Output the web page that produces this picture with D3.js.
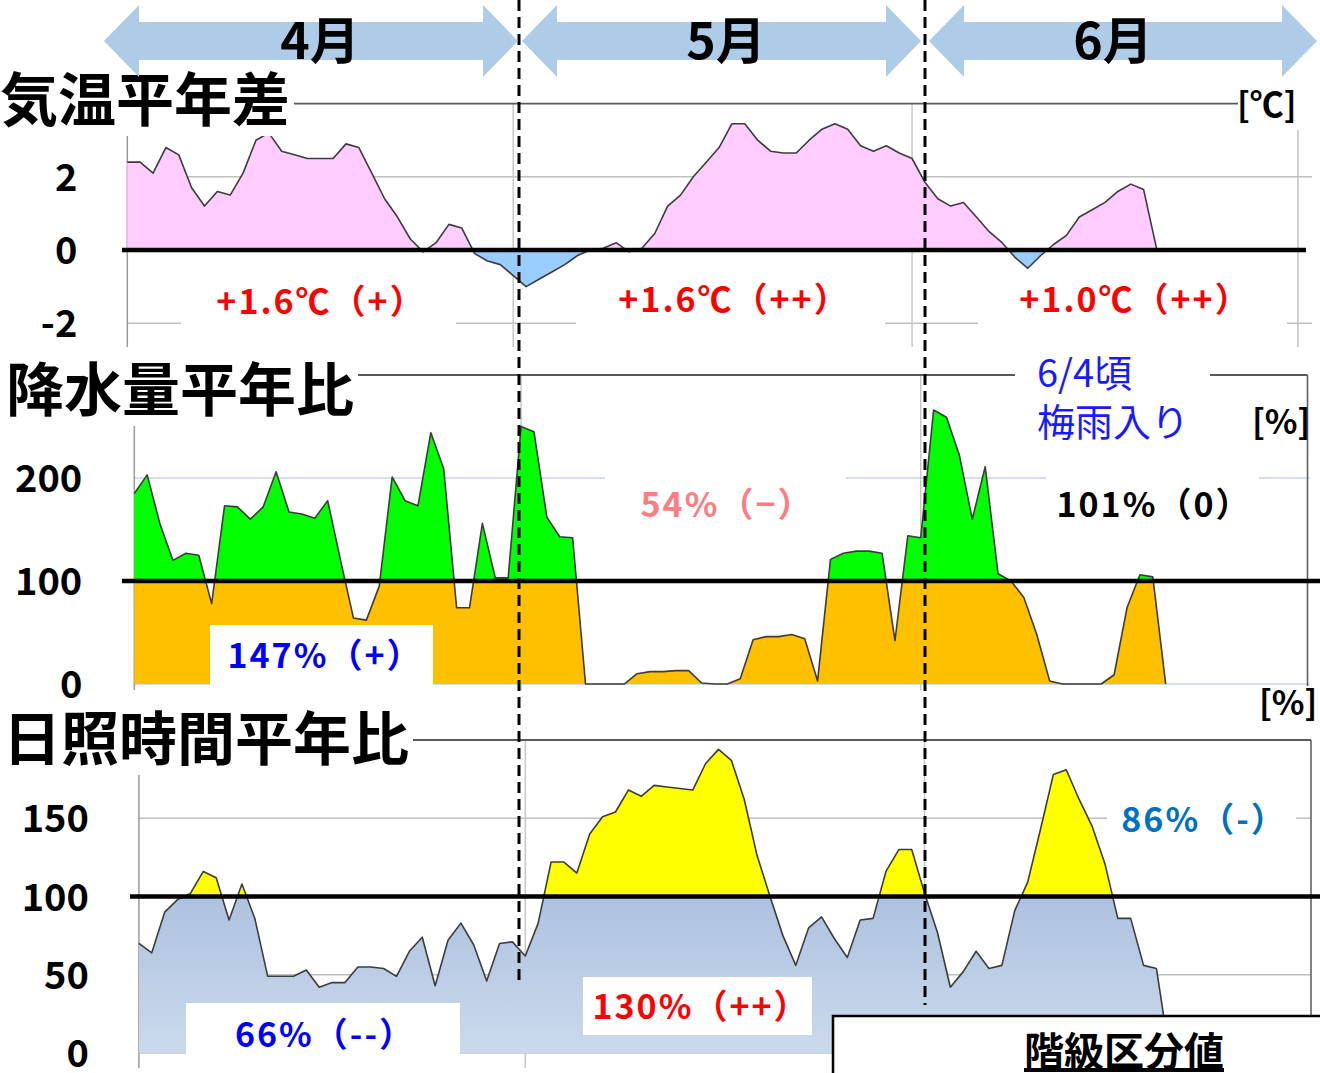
<!DOCTYPE html>
<html>
<head>
<meta charset="utf-8">
<script src="https://cdn.jsdelivr.net/npm/d3@7"></script>
<style>
  body { margin: 0; background: #fff; }
  svg { display: block; }
  text { font-family: "Noto Sans CJK JP", "Noto Sans", sans-serif; }
</style>
</head>
<body>
<svg id="chart" width="1320" height="1073"></svg>
<script>
// day index 0 = Apr 1, axis runs to Jul 1 (91 days)
var dayCount = 91;
var monthNames = ['4月', '5月', '6月'];
var monthStartDays = [0, 30, 61, 91];

// 気温平年差 [℃]
var tempValues = [
  2.4, 2.4, 2.1, 2.8, 2.6, 1.7, 1.2, 1.6, 1.5, 2.1,
  3.0, 3.2, 2.7, 2.6, 2.5, 2.5, 2.5, 2.9, 2.8, 2.1,
  1.4, 0.9, 0.3, -0.05, 0.2, 0.7, 0.6, -0.1, -0.3, -0.4,
  -0.7, -1.0, -0.8, -0.6, -0.4, -0.15, 0.0, 0.05, 0.2, -0.05,
  0.05, 0.45, 1.2, 1.5, 2.0, 2.4, 2.8, 3.45, 3.45, 3.0,
  2.7, 2.65, 2.65, 3.0, 3.3, 3.45, 3.3, 2.85, 2.7, 2.85,
  2.65, 2.5, 1.85, 1.4, 1.2, 1.3, 0.9, 0.5, 0.2, -0.2,
  -0.5, -0.15, 0.15, 0.4, 0.9, 1.1, 1.3, 1.6, 1.8, 1.65,
  0.05
];

// 降水量平年比 [%]
var precipValues = [
  185, 203, 155, 120, 127, 125, 78, 173, 172, 160,
  172, 206, 167, 165, 161, 178, 120, 64, 62, 95,
  201, 178, 173, 244, 209, 74, 74, 156, 103, 103,
  250, 245, 162, 143, 142, 0, 0, 0, 0, 10,
  12, 12, 13, 13, 1, 0, 0, 5, 43, 46,
  46, 48, 44, 3, 121, 127, 129, 129, 127, 42,
  144, 142, 266, 259, 222, 160, 211, 107, 100, 84,
  48, 3, 0, 0, 0, 0, 9, 74, 106, 104,
  0
];

// 日照時間平年比 [%]
var sunValues = [
  70, 64, 90, 98, 102, 116, 112, 85, 108, 86,
  49, 49, 49, 53, 42, 45, 45, 55, 55, 54,
  49, 65, 74, 43, 72, 83, 69, 46, 70, 71,
  62, 83, 122, 122, 115, 140, 151, 154, 168, 164,
  171, 170, 169, 168, 185, 194, 187, 162, 126, 100,
  75, 56, 80, 87, 73, 61, 85, 86, 116, 130,
  130, 102, 77, 42, 52, 65, 54, 56, 91, 109,
  143, 178, 181, 162, 145, 121, 86, 86, 56, 54,
  0
];

var tempTicks = [-2, 0, 2];
var precipTicks = [0, 100, 200, 300];
var sunTicks = [0, 50, 100, 150, 200];

var tempLabels = ['+1.6℃（+）', '+1.6℃（++）', '+1.0℃（++）'];
var precipLabels = ['147%（+）', '54%（−）', '101%（0）'];
var sunLabels = ['66%（--）', '130%（++）', '86%（-）'];

var svg = d3.select('#chart');
var defs = svg.append('defs');
var lowerLayer = svg.append('g');
var areaLayer = svg.append('g');
var upperLayer = svg.append('g');
var labelLayer = svg.append('g');
var topLayer = svg.append('g');

function drawPanel(p) {
  var x = d3.scaleLinear().domain([0, dayCount]).range(p.xRange);
  var y = d3.scaleLinear().domain(p.yDomain).range(p.yRange);
  var left = p.xRange[0];
  var right = p.xRange[1];

  // horizontal grid lines
  lowerLayer.selectAll(null).data(p.grid).enter().append('line')
    .attr('x1', left)
    .attr('x2', p.gridEnd)
    .attr('y1', function(d) { return y(d); })
    .attr('y2', function(d) { return y(d); })
    .attr('stroke', p.gridColor)
    .attr('stroke-width', 1.5);

  // month boundaries
  lowerLayer.selectAll(null).data(monthStartDays.slice(1, 3)).enter().append('line')
    .attr('x1', function(d) { return x(d); })
    .attr('x2', function(d) { return x(d); })
    .attr('y1', y(p.yDomain[1]))
    .attr('y2', p.axisBottom)
    .attr('stroke', '#c8c8c8')
    .attr('stroke-width', 1.5);

  // frame: top line, right line, left axis
  lowerLayer.append('line')
    .attr('x1', left).attr('x2', right)
    .attr('y1', y(p.yDomain[1])).attr('y2', y(p.yDomain[1]))
    .attr('stroke', '#595959').attr('stroke-width', 1.8);
  lowerLayer.append('line')
    .attr('x1', right).attr('x2', right)
    .attr('y1', p.rightTop).attr('y2', p.rightBottom)
    .attr('stroke', p.rightColor).attr('stroke-width', 1.5);
  lowerLayer.append('line')
    .attr('x1', left).attr('x2', left)
    .attr('y1', p.axisTop).attr('y2', p.axisBottom)
    .attr('stroke', '#9a9a9a').attr('stroke-width', 1.5);

  var refY = y(p.ref);
  defs.append('clipPath').attr('id', p.id + 'Above')
    .append('rect').attr('x', 0).attr('y', 0).attr('width', 1320).attr('height', refY);
  defs.append('clipPath').attr('id', p.id + 'Below')
    .append('rect').attr('x', 0).attr('y', refY).attr('width', 1320).attr('height', 1073 - refY);

  if (p.lowGradient) {
    var grad = defs.append('linearGradient').attr('id', p.id + 'Grad')
      .attr('gradientUnits', 'userSpaceOnUse')
      .attr('x1', 0).attr('x2', 0).attr('y1', refY).attr('y2', y(0));
    grad.append('stop').attr('offset', '0%').attr('stop-color', p.lowGradient[0]);
    grad.append('stop').attr('offset', '100%').attr('stop-color', p.lowGradient[1]);
  }

  var area = d3.area()
    .x(function(d, i) { return x(i); })
    .y0(y(0))
    .y1(function(d) { return y(d); });
  var line = d3.line()
    .x(function(d, i) { return x(i); })
    .y(function(d) { return y(d); });

  areaLayer.append('path').datum(p.values)
    .attr('d', area)
    .attr('fill', p.aboveColor)
    .attr('clip-path', 'url(#' + p.id + 'Above)');
  areaLayer.append('path').datum(p.values)
    .attr('d', area)
    .attr('fill', p.lowGradient ? 'url(#' + p.id + 'Grad)' : p.belowColor)
    .attr('clip-path', 'url(#' + p.id + 'Below)');
  areaLayer.append('path').datum(p.values)
    .attr('d', line)
    .attr('fill', 'none')
    .attr('stroke', '#3c3c3c')
    .attr('stroke-width', 1.6)
    .attr('stroke-linejoin', 'round');

  // reference line (平年)
  upperLayer.append('line')
    .attr('x1', p.refStart).attr('x2', p.refEnd)
    .attr('y1', refY).attr('y2', refY)
    .attr('stroke', '#000').attr('stroke-width', 4.5);

  var axis = d3.axisLeft(y).tickValues(p.ticks).tickSize(0).tickPadding(p.tickPad)
    .tickFormat(function(d) { return String(d); });
  var axisG = lowerLayer.append('g')
    .attr('transform', 'translate(' + left + ',0)')
    .call(axis);
  axisG.select('.domain').remove();
  axisG.selectAll('text')
    .attr('font-family', '"Noto Sans CJK JP", sans-serif')
    .attr('font-size', 38)
    .attr('font-weight', 'bold')
    .attr('fill', '#000')
    .attr('dy', '0.36em');

  // summary labels with white boxes
  p.labels.forEach(function(txt, k) {
    var lay = p.labelLayout[k];
    labelLayer.append('rect')
      .attr('x', lay.box[0]).attr('y', lay.box[1])
      .attr('width', lay.box[2] - lay.box[0]).attr('height', lay.box[3] - lay.box[1])
      .attr('fill', '#fff');
    labelLayer.append('text')
      .attr('x', lay.cx).attr('y', lay.by)
      .attr('text-anchor', 'middle')
      .attr('font-size', 34)
      .attr('letter-spacing', 2)
      .attr('font-weight', 'bold')
      .attr('fill', p.labelColors[k])
      .text(txt);
  });

  return { x: x, y: y };
}

drawPanel({
  id: 'temp',
  values: tempValues,
  xRange: [127.3, 1298],
  yDomain: [-2, 4],
  yRange: [323.2, 103.6],
  ref: 0,
  grid: [-2, 2],
  gridEnd: 1312,
  gridColor: '#c0c0c0',
  axisTop: 115, axisBottom: 347,
  rightTop: 130, rightBottom: 347, rightColor: '#c0c0c0',
  refStart: 122, refEnd: 1306,
  aboveColor: '#ffccff',
  belowColor: '#99ccff',
  ticks: tempTicks,
  tickPad: 50,
  labels: tempLabels,
  labelColors: ['#ff0000', '#ff0000', '#ff0000'],
  labelLayout: [
    { cx: 321, by: 314, box: [181, 282, 456, 345] },
    { cx: 734, by: 312, box: [576, 282, 885, 345] },
    { cx: 1135, by: 312, box: [978, 282, 1287, 345] }
  ]
});

drawPanel({
  id: 'precip',
  values: precipValues,
  xRange: [134.3, 1307.5],
  yDomain: [0, 300],
  yRange: [684, 375],
  ref: 100,
  grid: [0, 200],
  gridEnd: 1310,
  gridColor: '#c9d5e9',
  axisTop: 420, axisBottom: 690,
  rightTop: 375, rightBottom: 686, rightColor: '#595959',
  refStart: 122, refEnd: 1320,
  aboveColor: '#00ff00',
  belowColor: '#ffc000',
  ticks: precipTicks,
  tickPad: 52,
  labels: precipLabels,
  labelColors: ['#0000ff', '#ff7c80', '#000000'],
  labelLayout: [
    { cx: 325, by: 668, box: [210, 625, 433, 686] },
    { cx: 727, by: 517, box: [605, 455, 846, 545] },
    { cx: 1154, by: 517, box: [1046, 455, 1259, 545] }
  ]
});

drawPanel({
  id: 'sun',
  values: sunValues,
  xRange: [138.9, 1311],
  yDomain: [0, 200],
  yRange: [1053, 740],
  ref: 100,
  grid: [0, 50, 150],
  gridEnd: 1311,
  gridColor: '#c0c0c0',
  axisTop: 760, axisBottom: 1068,
  rightTop: 740, rightBottom: 1015, rightColor: '#595959',
  refStart: 130, refEnd: 1320,
  aboveColor: '#ffff00',
  lowGradient: ['#adc2df', '#cbd9ec'],
  ticks: sunTicks,
  tickPad: 50,
  labels: sunLabels,
  labelColors: ['#0000ff', '#ff0000', '#0070c0'],
  labelLayout: [
    { cx: 325, by: 1047, box: [186, 1003, 460, 1073] },
    { cx: 701, by: 1019, box: [583, 977, 812, 1035] },
    { cx: 1204, by: 832, box: [1107, 795, 1296, 845] }
  ]
});

// month boundary dashes
topLayer.selectAll(null).data([{ x: 519, y2: 985 }, { x: 925, y2: 1005 }]).enter().append('line')
  .attr('x1', function(d) { return d.x; })
  .attr('x2', function(d) { return d.x; })
  .attr('y1', 0)
  .attr('y2', function(d) { return d.y2; })
  .attr('stroke', '#000')
  .attr('stroke-width', 3)
  .attr('stroke-dasharray', '11,6');

// panel titles on white backing
function title(txt, x, y) {
  var t = topLayer.append('text')
    .attr('x', x).attr('y', y)
    .attr('font-size', 58)
    .attr('font-weight', 'bold')
    .attr('fill', '#000')
    .text(txt);
  var b = t.node().getBBox();
  topLayer.insert('rect', function() { return t.node(); })
    .attr('x', b.x - 2).attr('y', b.y + 6)
    .attr('width', b.width + 6).attr('height', b.height - 8)
    .attr('fill', '#fff');
}
title('気温平年差', 0, 121);
title('降水量平年比', 6, 411);
title('日照時間平年比', 3, 760);

// units
function unit(txt, x, y) {
  topLayer.append('text')
    .attr('x', x).attr('y', y)
    .attr('font-size', 34)
    .attr('font-weight', 'bold')
    .attr('fill', '#000')
    .text(txt);
}
// white gap in top line behind [℃]
topLayer.append('rect').attr('x', 1238).attr('y', 88).attr('width', 70).attr('height', 34).attr('fill', '#fff');
unit('[℃]', 1237, 117);
unit('[%]', 1252, 434);
unit('[%]', 1259, 715);

// 梅雨入り note
topLayer.append('rect').attr('x', 1015).attr('y', 350).attr('width', 195).attr('height', 45).attr('fill', '#fff');
topLayer.append('text').attr('x', 1037).attr('y', 387)
  .attr('font-size', 38).attr('fill', '#1a1aff').text('6/4頃');
topLayer.append('text').attr('x', 1037).attr('y', 436)
  .attr('font-size', 38).attr('fill', '#1a1aff').text('梅雨入り');

// month arrows
var arrowSpans = [[104, 518], [522, 921], [929, 1317]];
var monthCenters = [320, 726, 1113];
function arrowPath(x0, x1) {
  var cy = 41, head = 35, hh = 36, sh = 19;
  return [
    [x0, cy], [x0 + head, cy - hh], [x0 + head, cy - sh], [x1 - head, cy - sh],
    [x1 - head, cy - hh], [x1, cy], [x1 - head, cy + hh], [x1 - head, cy + sh],
    [x0 + head, cy + sh], [x0 + head, cy + hh]
  ];
}
topLayer.selectAll(null).data(arrowSpans).enter().append('polygon')
  .attr('points', function(d) { return arrowPath(d[0], d[1]).join(' '); })
  .attr('fill', '#aecbe8');
topLayer.selectAll(null).data(monthNames).enter().append('text')
  .attr('x', function(d, i) { return monthCenters[i]; })
  .attr('y', 59)
  .attr('text-anchor', 'middle')
  .attr('font-size', 50)
  .attr('font-weight', 'bold')
  .attr('fill', '#000')
  .text(function(d) { return d; });

// 階級区分値 box
topLayer.append('rect')
  .attr('x', 833).attr('y', 1016).attr('width', 500).attr('height', 70)
  .attr('fill', '#fff').attr('stroke', '#000').attr('stroke-width', 2.5);
topLayer.append('text')
  .attr('x', 1124).attr('y', 1066)
  .attr('text-anchor', 'middle')
  .attr('font-size', 40)
  .attr('font-weight', 'bold')
  .attr('text-decoration', 'underline')
  .attr('fill', '#000')
  .text('階級区分値');
</script>
</body>
</html>
